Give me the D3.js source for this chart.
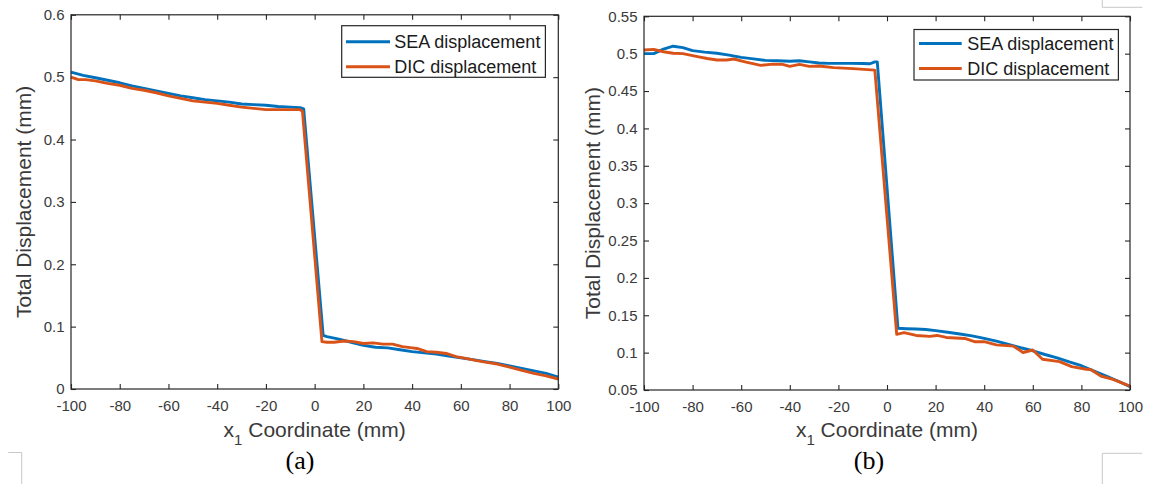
<!DOCTYPE html>
<html>
<head>
<meta charset="utf-8">
<script src="https://cdn.jsdelivr.net/npm/d3@7"></script>
<style>
  html, body { margin: 0; padding: 0; background: #fff; }
  svg { display: block; }
</style>
</head>
<body>
<svg id="chart" width="1155" height="484"></svg>
<script>
// ---------------- DATA ----------------
const seriesNames = ["SEA displacement", "DIC displacement"];
const xTicks = [-100, -80, -60, -40, -20, 0, 20, 40, 60, 80, 100];
const xTickLabels = ["-100", "-80", "-60", "-40", "-20", "0", "20", "40", "60", "80", "100"];

// Panel (a)
const yTicksA = [0, 0.1, 0.2, 0.3, 0.4, 0.5, 0.6];
const yTickLabelsA = ["0", "0.1", "0.2", "0.3", "0.4", "0.5", "0.6"];
const seaA_x = [-100, -95, -90, -85, -80, -75, -70, -65, -60, -55, -50, -45, -40, -35, -30, -25, -20, -15, -10, -6, -4.5,
                3.5, 5, 10, 15, 20, 25, 30, 35, 40, 45, 50, 55, 60, 65, 70, 75, 80, 85, 90, 95, 100];
const seaA_y = [0.508, 0.503, 0.499, 0.495, 0.491, 0.486, 0.482, 0.478, 0.474, 0.470, 0.467, 0.464, 0.462, 0.460, 0.457, 0.456, 0.455, 0.453, 0.452, 0.451, 0.449,
                0.086, 0.084, 0.080, 0.075, 0.070, 0.067, 0.066, 0.063, 0.060, 0.058, 0.056, 0.053, 0.050, 0.047, 0.044, 0.041, 0.037, 0.033, 0.029, 0.025, 0.019];
const dicA_x = [-100, -97, -94, -90, -85, -80, -75, -70, -65, -60, -55, -50, -45, -40, -35, -30, -25, -20, -15, -10, -6, -5,
                3, 5, 8, 12, 16, 20, 24, 28, 32, 36, 40, 42, 46, 50, 54, 58, 62, 66, 70, 75, 80, 85, 90, 95, 100];
const dicA_y = [0.500, 0.496, 0.496, 0.494, 0.490, 0.487, 0.482, 0.479, 0.475, 0.470, 0.466, 0.462, 0.460, 0.458, 0.455, 0.452, 0.450, 0.448, 0.448, 0.448, 0.448, 0.445,
                0.076, 0.075, 0.075, 0.077, 0.076, 0.073, 0.074, 0.072, 0.072, 0.068, 0.066, 0.065, 0.060, 0.059, 0.057, 0.052, 0.049, 0.046, 0.043, 0.040, 0.035, 0.030, 0.025, 0.021, 0.016];

// Panel (b)
const yTicksB = [0.05, 0.1, 0.15, 0.2, 0.25, 0.3, 0.35, 0.4, 0.45, 0.5, 0.55];
const yTickLabelsB = ["0.05", "0.1", "0.15", "0.2", "0.25", "0.3", "0.35", "0.4", "0.45", "0.5", "0.55"];
const seaB_x = [-100, -96, -92, -88, -84, -80, -75, -70, -65, -60, -55, -50, -45, -40, -36, -32, -28, -24, -20, -15, -10, -7, -5, -4,
                4.5, 8, 12, 16, 20, 25, 30, 35, 40, 45, 50, 55, 60, 65, 70, 75, 80, 85, 90, 95, 100];
const seaB_y = [0.500, 0.500, 0.506, 0.510, 0.508, 0.504, 0.502, 0.5005, 0.498, 0.495, 0.493, 0.491, 0.4905, 0.4898, 0.4906, 0.489, 0.4875, 0.487, 0.487, 0.487, 0.4868, 0.4865, 0.489, 0.489,
                0.1326, 0.132, 0.1316, 0.131, 0.1294, 0.1272, 0.125, 0.1225, 0.1191, 0.1155, 0.111, 0.1065, 0.1025, 0.0975, 0.093, 0.0875, 0.0825, 0.0755, 0.069, 0.062, 0.0545];
const dicB_x = [-100, -96, -92, -88, -84, -78, -74, -70, -66, -63, -58, -52, -47, -43, -40, -36, -32, -28, -22, -14, -5,
                4, 7, 12, 17.6, 20.6, 24.4, 32, 36, 40, 45, 52, 56, 60, 64, 71, 76, 82, 84, 88, 93, 100];
const dicB_y = [0.505, 0.5058, 0.5026, 0.5005, 0.500, 0.496, 0.4935, 0.4915, 0.4915, 0.4929, 0.4888, 0.4844, 0.486, 0.4857, 0.483, 0.4857, 0.483, 0.4835, 0.4813, 0.480, 0.478,
                0.1245, 0.1267, 0.123, 0.1217, 0.123, 0.1203, 0.119, 0.1146, 0.1146, 0.1104, 0.1087, 0.1002, 0.1035, 0.0911, 0.0879, 0.0812, 0.0777, 0.0772, 0.0687, 0.0643, 0.0553];

const captions = ["(a)", "(b)"];
const xLabelMain = "x";
const xLabelSub = "1";
const xLabelRest = " Coordinate (mm)";
const yLabelText = "Total Displacement (mm)";

// ---------------- STYLE ----------------
const colors = ["#0072BD", "#D95319"];
const axisColor = "#262626";
const textColor = "#3a3a3a";
const sansFont = "'Liberation Sans', Arial, Helvetica, sans-serif";
const serifFont = "'Liberation Serif', 'Times New Roman', serif";

const svg = d3.select("#chart");

function zip(xs, ys) { return xs.map((x, i) => ({ x: x, y: ys[i] })); }

const panels = [
  { left: 71, right: 558.3, top: 14.8, bottom: 389, yDomain: [0, 0.6], yTicks: yTicksA, yTickLabels: yTickLabelsA,
    series: [zip(seaA_x, seaA_y), zip(dicA_x, dicA_y)],
    legend: { x: 341.7, y: 25.7, h: 51.6, rows: [16, 41], sample: [4.3, 48.3], textX: 52.6 },
    yLabelX: 31, caption: captions[0], captionX: 300 },
  { left: 644, right: 1130, top: 16.3, bottom: 390, yDomain: [0.05, 0.55], yTicks: yTicksB, yTickLabels: yTickLabelsB,
    series: [zip(seaB_x, seaB_y), zip(dicB_x, dicB_y)],
    legend: { x: 914, y: 29.5, h: 50.5, rows: [14, 39], sample: [5, 47.7], textX: 53.3 },
    yLabelX: 600, caption: captions[1], captionX: 869 }
];

panels.forEach(p => {
  const x = d3.scaleLinear().domain([-100, 100]).range([p.left, p.right]);
  const y = d3.scaleLinear().domain(p.yDomain).range([p.bottom, p.top]);
  const g = svg.append("g");

  const ax = g.append("g").attr("transform", `translate(0,${p.bottom})`)
    .call(d3.axisBottom(x).tickValues(xTicks).tickFormat((d, i) => xTickLabels[i])
      .tickSizeInner(-5).tickSizeOuter(0).tickPadding(11.5));
  const axT = g.append("g").attr("transform", `translate(0,${p.top})`)
    .call(d3.axisTop(x).tickValues(xTicks).tickFormat("").tickSizeInner(-5).tickSizeOuter(0));
  const ay = g.append("g").attr("transform", `translate(${p.left},0)`)
    .call(d3.axisLeft(y).tickValues(p.yTicks).tickFormat((d, i) => p.yTickLabels[i])
      .tickSizeInner(-5).tickSizeOuter(0).tickPadding(6.5));
  const ayR = g.append("g").attr("transform", `translate(${p.right},0)`)
    .call(d3.axisRight(y).tickValues(p.yTicks).tickFormat("").tickSizeInner(-5).tickSizeOuter(0));

  [ax, axT, ay, ayR].forEach(a => {
    a.select(".domain").remove();
    a.selectAll(".tick line").attr("stroke", axisColor).attr("stroke-width", 1.1);
    a.selectAll(".tick text").attr("fill", textColor).style("font-family", sansFont).style("font-size", "15px");
  });

  const line = d3.line().x(d => x(d.x)).y(d => y(d.y));
  p.series.forEach((s, i) => {
    g.append("path").datum(s).attr("d", line)
      .attr("fill", "none").attr("stroke", colors[i]).attr("stroke-width", 2.9)
      .attr("stroke-linejoin", "round").attr("stroke-linecap", "butt");
  });

  g.append("rect").attr("x", p.left).attr("y", p.top)
    .attr("width", p.right - p.left).attr("height", p.bottom - p.top)
    .attr("fill", "none").attr("stroke", axisColor).attr("stroke-width", 1.2);

  const L = p.legend;
  const lg = g.append("g").attr("transform", `translate(${L.x},${L.y})`);
  const box = lg.append("rect").attr("x", 0).attr("y", 0).attr("height", L.h)
    .attr("fill", "#fff").attr("stroke", axisColor).attr("stroke-width", 1.2);
  let maxW = 0;
  seriesNames.forEach((name, i) => {
    lg.append("line").attr("x1", L.sample[0]).attr("x2", L.sample[1])
      .attr("y1", L.rows[i]).attr("y2", L.rows[i])
      .attr("stroke", colors[i]).attr("stroke-width", 2.9);
    const t = lg.append("text").attr("x", L.textX).attr("y", L.rows[i]).attr("dy", "0.35em")
      .attr("fill", "#1a1a1a").style("font-family", sansFont).style("font-size", "18px").text(name);
    maxW = Math.max(maxW, t.node().getComputedTextLength());
  });
  box.attr("width", L.textX + maxW + 5);

  const xl = g.append("text").attr("x", (p.left + p.right) / 2).attr("y", 437)
    .attr("text-anchor", "middle").attr("fill", textColor)
    .style("font-family", sansFont).style("font-size", "21px");
  xl.append("tspan").text(xLabelMain);
  xl.append("tspan").attr("dy", 8).style("font-size", "15px").text(xLabelSub);
  xl.append("tspan").attr("dy", -8).text(xLabelRest);

  g.append("text").attr("transform", `translate(${p.yLabelX},${(p.top + p.bottom) / 2}) rotate(-90)`)
    .attr("text-anchor", "middle").attr("fill", textColor)
    .style("font-family", sansFont).style("font-size", "21px").text(yLabelText);

  g.append("text").attr("x", p.captionX).attr("y", 468.5).attr("text-anchor", "middle")
    .attr("fill", "#000").style("font-family", serifFont).style("font-size", "26px").text(p.caption);
});

const cornerColor = "#c8c8c8";
svg.append("path").attr("d", "M8.3,452.5H21.7V484").attr("fill", "none").attr("stroke", cornerColor).attr("stroke-width", 1);
svg.append("path").attr("d", "M1102.3,0V7.3H1142.3").attr("fill", "none").attr("stroke", cornerColor).attr("stroke-width", 1);
svg.append("path").attr("d", "M1142.3,453.3H1102.3V484").attr("fill", "none").attr("stroke", cornerColor).attr("stroke-width", 1);
</script>
</body>
</html>
